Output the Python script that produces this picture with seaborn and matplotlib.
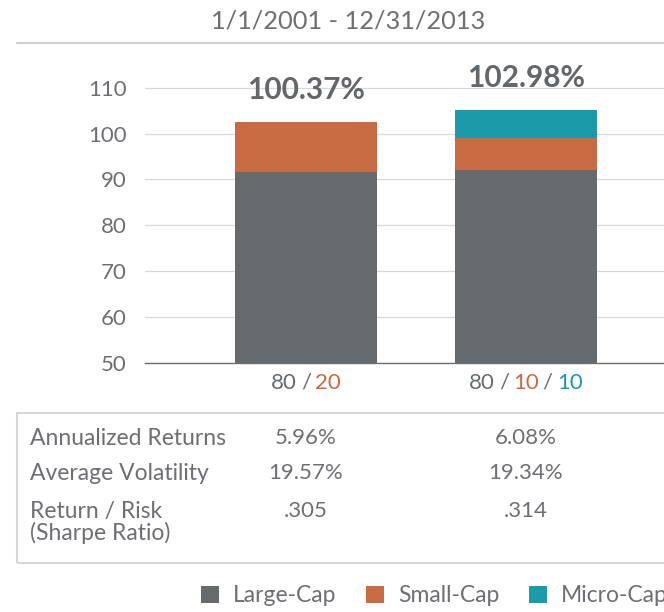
import matplotlib
matplotlib.use("Agg")
import matplotlib.pyplot as plt
from matplotlib.patches import Patch, Rectangle
from matplotlib.lines import Line2D
import seaborn as sns
import pandas as pd
import numpy as np

# ---- data ----
portfolios = ["80 / 20", "80 / 10 / 10"]
layers = ["Large-Cap", "Small-Cap", "Micro-Cap"]
large_cap = [91.7, 92.1]
small_cap = [10.9, 6.9]
micro_cap = [0.0, 6.1]
total_labels = ["100.37%", "102.98%"]
tick_parts = [[("80", "Large-Cap"), ("/", "Large-Cap"), ("20", "Small-Cap")],
              [("80", "Large-Cap"), ("/", "Large-Cap"), ("10", "Small-Cap"),
               ("/", "Large-Cap"), ("10", "Micro-Cap")]]
yticks = [50, 60, 70, 80, 90, 100, 110]
row_labels = ["Annualized Returns", "Average Volatility", "Return / Risk\n(Sharpe Ratio)"]
annualized_returns = ["5.96%", "6.08%"]
average_volatility = ["19.57%", "19.34%"]
sharpe_ratio = [".305", ".314"]
title = "1/1/2001 - 12/31/2013"

colors = {"Large-Cap": "#666a6d", "Small-Cap": "#c86a42", "Micro-Cap": "#1b9aa9"}
text_gray = "#6d6f72"

sns.set_theme(style="white")
plt.rcParams["font.family"] = ["Lato", "DejaVu Sans"]

W, H = 664, 612
fig = plt.figure(figsize=(W / 100, H / 100), dpi=100)
ax_left, ax_right = 145 / W, 1.0
y50, y110 = 362.7, 87.7
ppu = (y50 - y110) / 60.0
ymax = 115
ax_bottom = 1 - y50 / H
ax_top = 1 - (y50 - (ymax - 50) * ppu) / H
ax = fig.add_axes([ax_left, ax_bottom, ax_right - ax_left, ax_top - ax_bottom])

# stacked bars via cumulative tops
segs = {"Large-Cap": large_cap, "Small-Cap": small_cap, "Micro-Cap": micro_cap}
cum = np.zeros(len(portfolios))
tops = {}
for l in layers:
    cum = cum + np.array(segs[l])
    tops[l] = cum.copy()
for l in reversed(layers):
    df = pd.DataFrame({"portfolio": portfolios, "top": tops[l]})
    sns.barplot(data=df, x="portfolio", y="top", order=portfolios, color=colors[l],
                saturation=1, width=0.644, ax=ax, linewidth=0, errorbar=None)

ax.set_ylim(50, ymax)
ax.set_xlim((145 - 305.8) / 220, (664 - 305.8) / 220)
ax.set_yticks(yticks)
ax.set_yticklabels([str(v) for v in yticks])
ax.tick_params(axis="y", length=0, pad=13, labelsize=16, labelcolor=text_gray)
ax.tick_params(axis="x", length=0, labelbottom=False)
ax.set_xlabel("")
ax.set_ylabel("")
ax.set_axisbelow(True)
ax.yaxis.grid(True, color="#d8d8d8", linewidth=0.9)
ax.xaxis.grid(False)
for s in ["top", "right", "left"]:
    ax.spines[s].set_visible(False)
ax.spines["bottom"].set_color("#6b6f72")
ax.spines["bottom"].set_linewidth(1.0)

# totals above bars
final_tops = tops[layers[-1]]
for i, lab in enumerate(total_labels):
    ax.annotate(lab, xy=(i, final_tops[i]), xytext=(0, 32 * 0.72), textcoords="offset points",
                ha="center", va="center", fontsize=21.5, fontweight="bold", color="#63676a",
                annotation_clip=False)

# multi-coloured category labels
xform = ax.get_xaxis_transform()
firsts = []
groups = []
for i, parts in enumerate(tick_parts):
    prev = None
    g = []
    for txt, layer in parts:
        c = text_gray if txt == "/" else colors[layer]
        if prev is None:
            t = ax.annotate(txt, xy=(i, 0), xycoords=xform, xytext=(0, -20 * 0.72),
                            textcoords="offset points", ha="left", va="center",
                            fontsize=16, color=c, annotation_clip=False)
            firsts.append(t)
        else:
            t = ax.annotate(txt, xy=(1, 0), xycoords=prev, xytext=(4 * 0.72, 0),
                            textcoords="offset points", ha="left", va="bottom",
                            fontsize=16, color=c, annotation_clip=False)
        g.append(t)
        prev = t
    groups.append(g)

fig.canvas.draw()
r = fig.canvas.get_renderer()
for t0, g in zip(firsts, groups):
    total = sum(t.get_window_extent(r).width for t in g) + 4 * (len(g) - 1)
    t0.xyann = (-total / 2 * 0.72, -20 * 0.72)

# title and rule
fig.text(348.5 / W, 1 - 21 / H, title, ha="center", va="center", fontsize=18.3, color=text_gray)
fig.add_artist(Line2D([17 / W, 1.0], [1 - 43 / H, 1 - 43 / H], color="#cfcfcf", linewidth=1.5))

# stats table box
fig.add_artist(Rectangle((17 / W, 1 - 563.3 / H), 1.2, (563.3 - 413.3) / H,
                         fill=False, edgecolor="#d6d6d6", linewidth=1.5))
row_top = [427, 462, 500]
rows_vals = [annualized_returns, average_volatility, sharpe_ratio]
for lab, yt, vals in zip(row_labels, row_top, rows_vals):
    fig.text(30 / W, 1 - (yt + 1) / H, lab, ha="left", va="top",
             fontsize=16.5, color=text_gray, linespacing=1.0)
    for i, v in enumerate(vals):
        xf = (305.8 + 220 * i) / W
        fig.text(xf, 1 - (yt + 1) / H, v, ha="center", va="top", fontsize=16, color=text_gray)

# legend
handles = [Patch(facecolor=colors[l], edgecolor="none") for l in layers]
fig.legend(handles, layers, loc="center left", bbox_to_anchor=(201 / W, 1 - 596 / H),
           ncol=3, frameon=False, fontsize=16.5, labelcolor=text_gray,
           handlelength=0.79, handleheight=0.79, handletextpad=0.6, columnspacing=1.3,
           borderpad=0, borderaxespad=0)

fig.savefig("out.png", dpi=100)
